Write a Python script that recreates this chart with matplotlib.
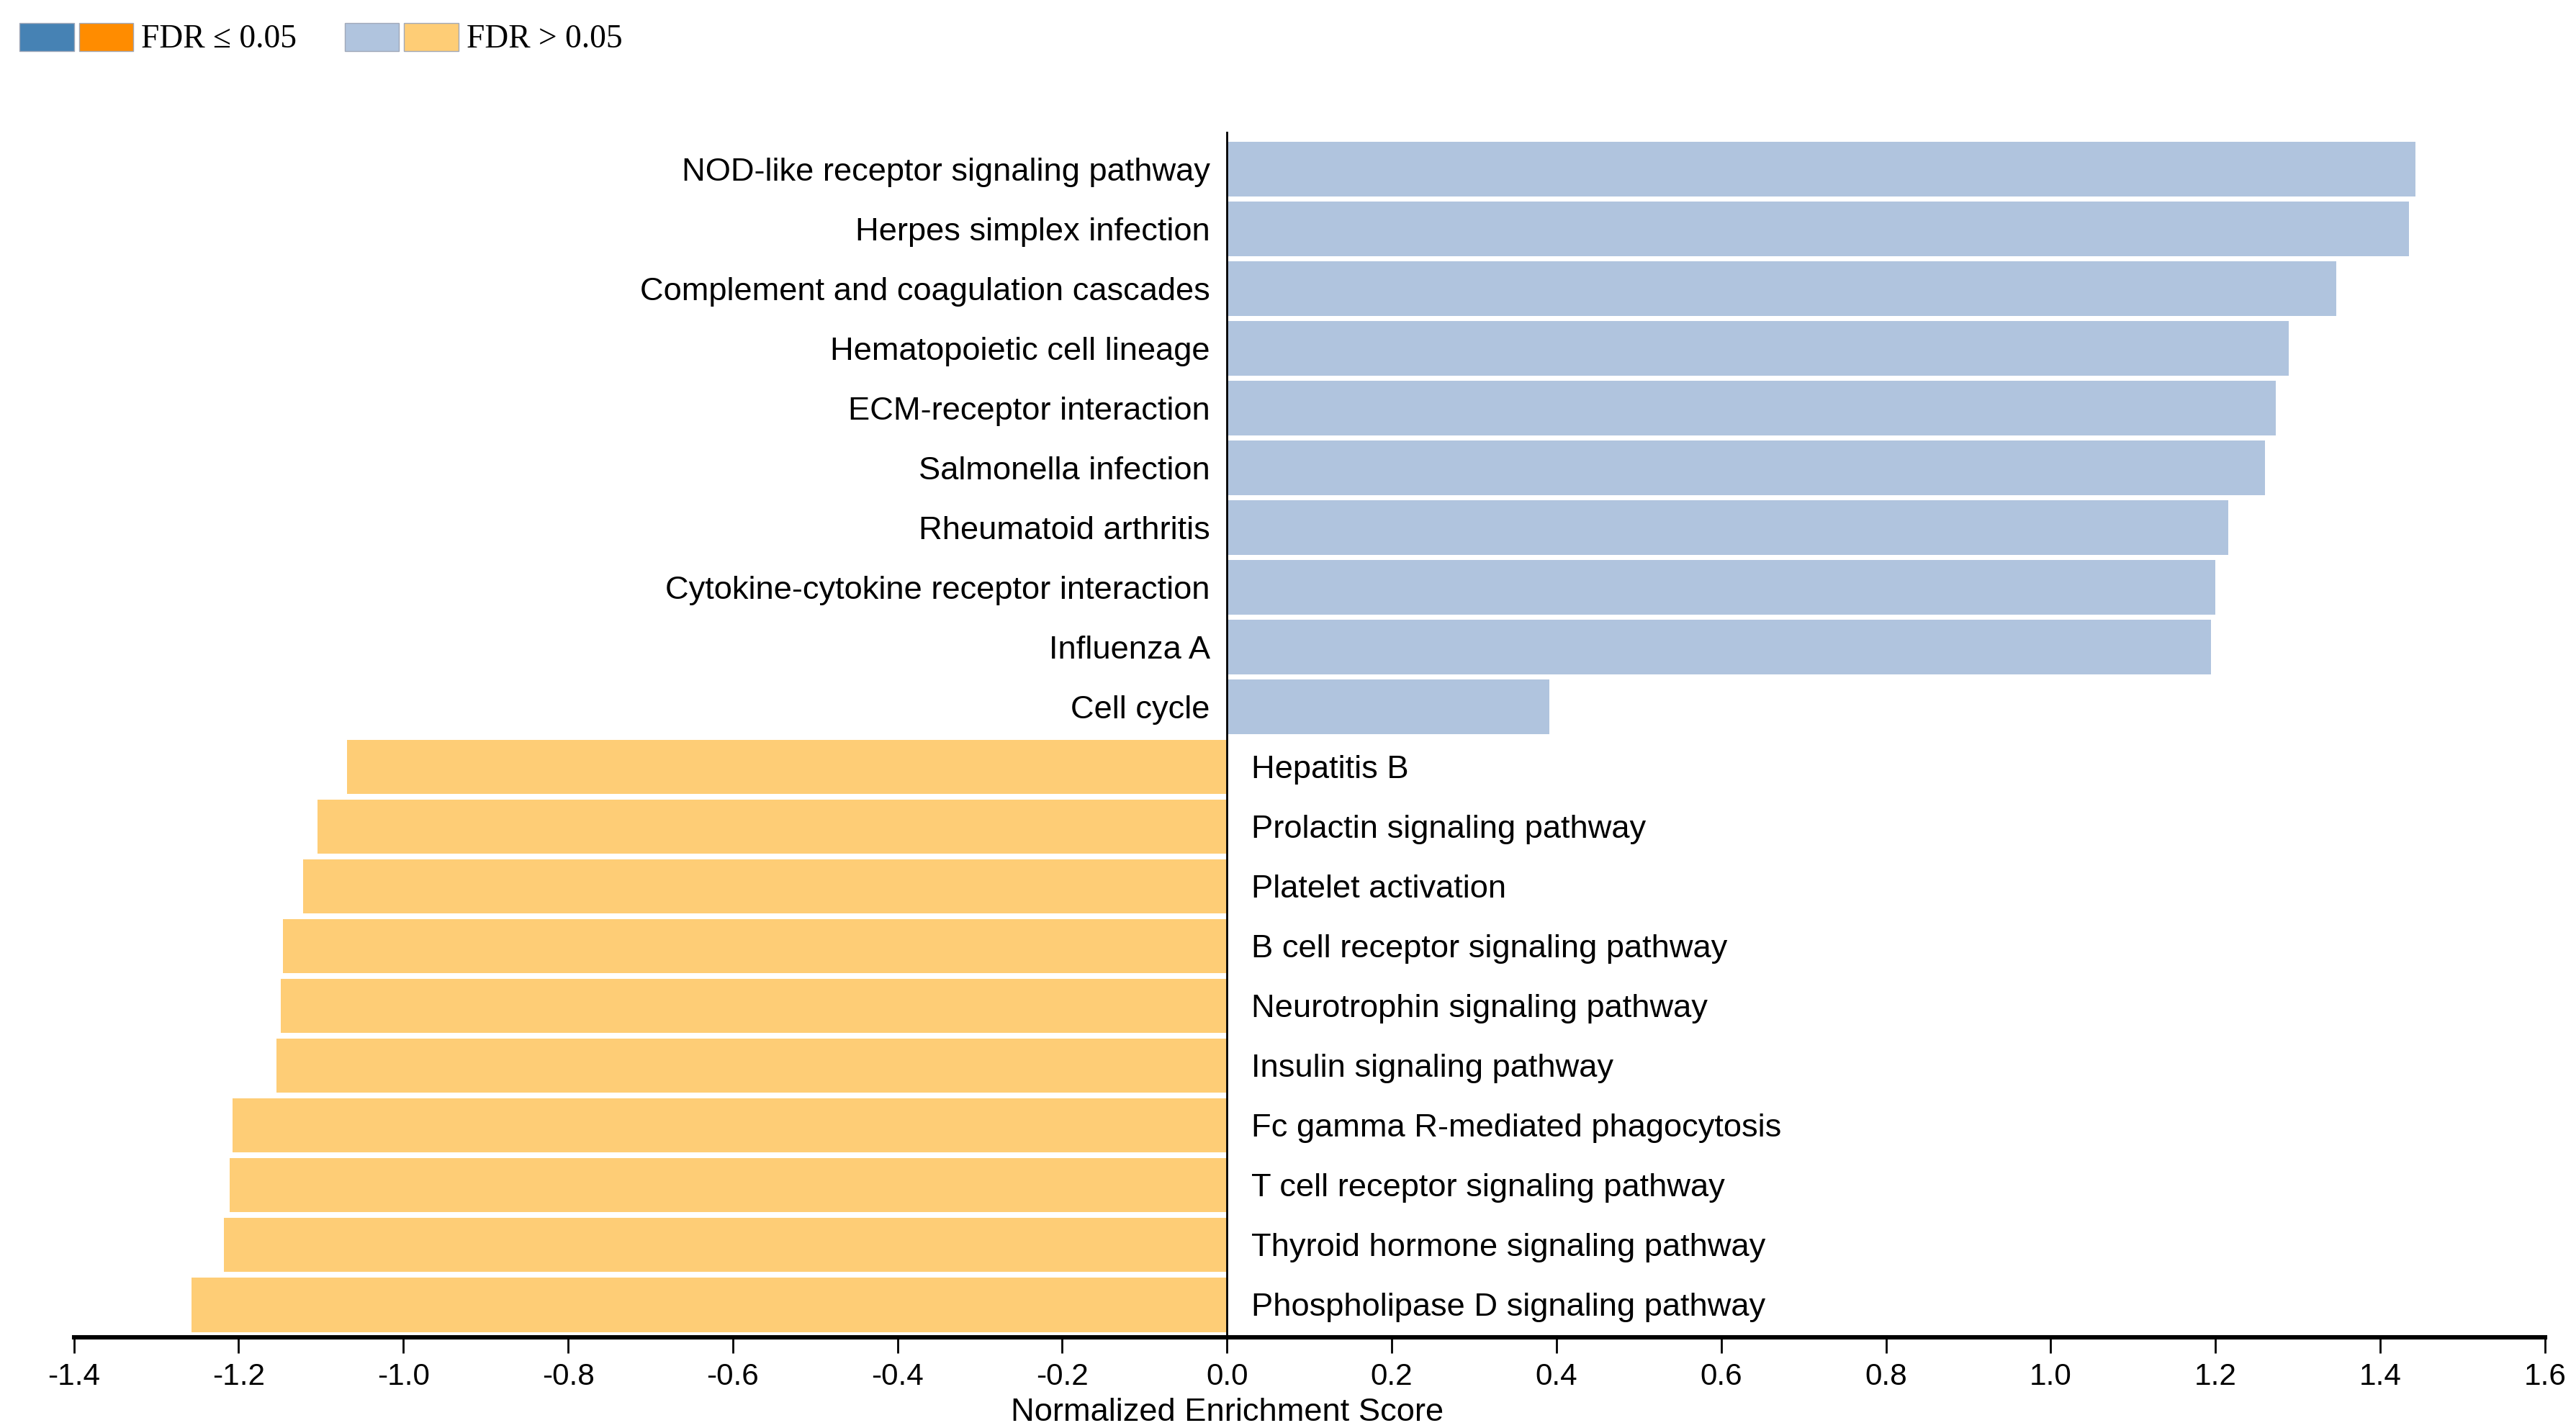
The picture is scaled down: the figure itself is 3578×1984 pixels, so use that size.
import matplotlib
matplotlib.use("Agg")
import matplotlib.pyplot as plt
from matplotlib.patches import Rectangle

plt.rcParams['font.family'] = ['Liberation Sans', 'DejaVu Sans']
plt.rcParams['axes.unicode_minus'] = False

pathways = [
    "NOD-like receptor signaling pathway",
    "Herpes simplex infection",
    "Complement and coagulation cascades",
    "Hematopoietic cell lineage",
    "ECM-receptor interaction",
    "Salmonella infection",
    "Rheumatoid arthritis",
    "Cytokine-cytokine receptor interaction",
    "Influenza A",
    "Cell cycle",
    "Hepatitis B",
    "Prolactin signaling pathway",
    "Platelet activation",
    "B cell receptor signaling pathway",
    "Neurotrophin signaling pathway",
    "Insulin signaling pathway",
    "Fc gamma R-mediated phagocytosis",
    "T cell receptor signaling pathway",
    "Thyroid hormone signaling pathway",
    "Phospholipase D signaling pathway",
]
nes = [1.443, 1.435, 1.347, 1.289, 1.273, 1.260, 1.216, 1.200, 1.195, 0.391,
       -1.068, -1.104, -1.122, -1.146, -1.149, -1.154, -1.207, -1.211, -1.218, -1.257]
xticks = [-1.4, -1.2, -1.0, -0.8, -0.6, -0.4, -0.2, 0.0, 0.2, 0.4, 0.6, 0.8, 1.0, 1.2, 1.4, 1.6]

pos_sig, neg_sig = '#4682B4', '#FF8C00'
pos_ns, neg_ns = '#B0C4DE', '#FECD76'

fig = plt.figure(figsize=(17.89, 9.92), dpi=200)
ax = fig.add_axes([0.0287, 0.0633, 0.9592, 0.8447])

n = len(pathways)
ypos = list(range(n))
colors = [pos_ns if v > 0 else neg_ns for v in nes]
ax.barh(ypos, nes, height=0.91, color=colors, edgecolor='none')

for y, (name, v) in enumerate(zip(pathways, nes)):
    if v > 0:
        ax.annotate(name, (0, y), xytext=(-8.5, -1.5), textcoords='offset points',
                    ha='right', va='center', fontsize=16.3)
    else:
        ax.annotate(name, (0, y), xytext=(12, -1.5), textcoords='offset points',
                    ha='left', va='center', fontsize=16.3)

ax.set_ylim(n - 1 + 0.55, -0.63)
ax.set_xlim(-1.4, 1.6)
ax.axvline(0, color='black', lw=1.0)
ax.set_yticks([])
ax.set_xticks(xticks)
ax.set_xticklabels([f"{t:.1f}" for t in xticks], fontsize=15.2)
for s in ['left', 'right', 'top']:
    ax.spines[s].set_visible(False)
ax.spines['bottom'].set_linewidth(2.2)
ax.tick_params(axis='x', direction='out', length=8, width=1.0, pad=4.5)
ax.set_xlabel("Normalized Enrichment Score", fontsize=16.3)
ax.xaxis.set_label_coords((0 - (-1.4)) / 3.0, -0.050)

# legend
W, H = 1568.0, 869.0
def rect(x0, x1, c):
    fig.patches.append(Rectangle((x0 / W, 1 - 31 / H), (x1 - x0) / W, 17 / H,
                                 transform=fig.transFigure, facecolor=c,
                                 edgecolor='#a0a8b8', lw=0.5))
rect(12, 45, pos_sig)
rect(48, 81, neg_sig)
rect(210, 243, pos_ns)
rect(246, 279, neg_ns)
fig.text(86 / W, 1 - 24 / H, "FDR \u2264 0.05", family=['Liberation Serif', 'DejaVu Serif'],
         fontsize=16.4, va='center', ha='left')
fig.text(284 / W, 1 - 24 / H, "FDR > 0.05", family=['Liberation Serif', 'DejaVu Serif'],
         fontsize=16.4, va='center', ha='left')

fig.savefig("out.png", dpi=200)
